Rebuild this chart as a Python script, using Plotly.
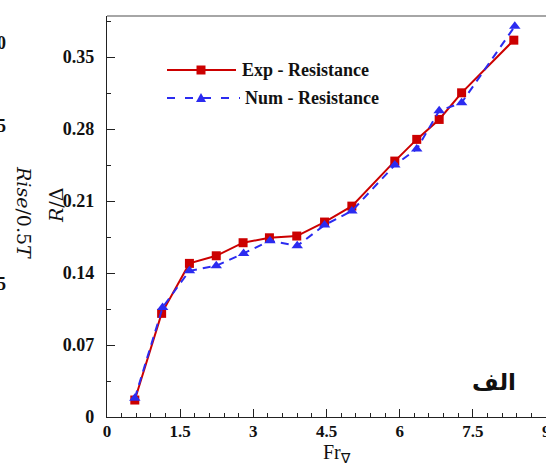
import plotly.graph_objects as go

# Froude number (volumetric) and resistance ratio R/Δ
fr_exp = [0.57, 1.12, 1.69, 2.24, 2.79, 3.33, 3.89, 4.46, 5.02, 5.90, 6.35, 6.81, 7.27, 8.34]
r_exp = [0.0165, 0.1008, 0.1494, 0.1568, 0.1695, 0.1743, 0.1760, 0.1896, 0.2051, 0.2489, 0.2700, 0.2894, 0.3153, 0.3665]

fr_num = [0.57, 1.14, 1.69, 2.24, 2.80, 3.34, 3.90, 4.46, 5.02, 5.90, 6.35, 6.81, 7.27, 8.36]
r_num = [0.0182, 0.1066, 0.1422, 0.1471, 0.1591, 0.1714, 0.1665, 0.1867, 0.2003, 0.2450, 0.2606, 0.2978, 0.3056, 0.3800]

x_ticks = [0, 1.5, 3, 4.5, 6, 7.5]
x_edge_tick = 9
y_ticks = [0, 0.07, 0.14, 0.21, 0.28, 0.35]

RED = "#cc0000"
BLUE = "#2b2bf0"
SERIF = "Liberation Serif"

W, H = 546, 464
L, R, T, B = 107, 0, 16, 47
PW, PH = W - L - R, H - T - B


def px(x):
    return (x - L) / PW


def py(y):
    return (H - B - y) / PH


fig = go.Figure()
fig.add_trace(go.Scatter(
    x=fr_exp, y=r_exp, mode="lines+markers", name="Exp - Resistance",
    line=dict(color=RED, width=2),
    marker=dict(symbol="square", size=9, color=RED),
    showlegend=False,
))
fig.add_trace(go.Scatter(
    x=fr_num, y=r_num, mode="lines+markers", name="Num - Resistance",
    line=dict(color=BLUE, width=2, dash="8px,6px"),
    marker=dict(symbol="triangle-up", size=10, color=BLUE),
    showlegend=False,
))

tick_font = dict(family=SERIF, size=18, color="#111", weight="bold")
xtick_font = dict(family=SERIF, size=17, color="#111", weight="bold")
axis_common = dict(
    showgrid=False, zeroline=False, showline=True, linecolor="#222", linewidth=1.2,
    ticks="inside", ticklen=8, tickwidth=1, tickcolor="#222",
)

fig.update_xaxes(
    range=[0, x_edge_tick], tickvals=x_ticks + [x_edge_tick],
    ticktext=[f"{v:g}" for v in x_ticks] + [""],
    minor=dict(dtick=0.3, ticks="inside", ticklen=4, tickcolor="#222"),
    mirror=False, ticklabelstandoff=-2, tickfont=xtick_font,
    **axis_common,
)
fig.update_yaxes(
    range=[0, 0.39], tickvals=y_ticks, ticktext=[f"{v:g}" for v in y_ticks],
    minor=dict(dtick=0.035, ticks="inside", ticklen=4, tickcolor="#222"),
    mirror=False, ticklabelstandoff=8, tickfont=tick_font,
    **axis_common,
)

shapes = [
    # top frame line
    dict(type="line", xref="paper", yref="paper", x0=0, x1=1, y0=1, y1=1,
         line=dict(color="#888", width=1.5)),
    # legend keys
    dict(type="line", xref="paper", yref="paper", x0=px(167), x1=px(236), y0=py(70), y1=py(70),
         line=dict(color=RED, width=2)),
    dict(type="rect", xref="paper", yref="paper", xsizemode="pixel", ysizemode="pixel",
         xanchor=px(201), yanchor=py(70), x0=-4.5, x1=4.5, y0=-4.5, y1=4.5,
         fillcolor=RED, line=dict(width=0)),
    dict(type="line", xref="paper", yref="paper", x0=px(167), x1=px(240), y0=py(98), y1=py(98),
         line=dict(color=BLUE, width=2, dash="8px,10px")),
    dict(type="path", xref="paper", yref="paper", xsizemode="pixel", ysizemode="pixel",
         xanchor=px(201), yanchor=py(98), path="M -5,-4 L 5,-4 L 0,5 Z",
         fillcolor=BLUE, line=dict(width=0)),
]

annotations = [
    dict(text="Exp - Resistance", xref="paper", yref="paper", x=px(240), y=py(70),
         xanchor="left", yanchor="middle", showarrow=False,
         font=dict(family=SERIF, size=18, color="#111", weight="bold")),
    dict(text="Num - Resistance", xref="paper", yref="paper", x=px(243), y=py(98),
         xanchor="left", yanchor="middle", showarrow=False,
         font=dict(family=SERIF, size=18, color="#111", weight="bold")),
    dict(text="الف", xref="paper", yref="paper", x=px(494), y=py(382),
         xanchor="center", yanchor="middle", showarrow=False,
         font=dict(family="DejaVu Sans", size=23, color="#111", weight="bold")),
    # axis titles
    dict(text="Fr<sub>∇</sub>", xref="paper", yref="paper", x=px(337), y=py(453),
         xanchor="center", yanchor="middle", showarrow=False, borderpad=0,
         font=dict(family=SERIF, size=20, color="#111")),
    dict(text="<i>R</i>/Δ", xref="paper", yref="paper", x=px(56), y=py(206),
         xanchor="center", yanchor="middle", textangle=-90, showarrow=False,
         font=dict(family="DejaVu Serif", size=19, color="#111")),
    # last x tick label, sitting on the right edge
    dict(text=f"{x_edge_tick:g}", xref="paper", yref="paper", x=1, y=py(431),
         xanchor="center", yanchor="middle", showarrow=False, font=xtick_font),
    # neighbouring panel's axis title and tick labels
    dict(text="<i>Rise</i>/0.5<i>T</i>", xref="paper", yref="paper", x=px(24), y=py(212),
         xanchor="center", yanchor="middle", textangle=90, showarrow=False,
         font=dict(family="DejaVu Serif", size=19, color="#111")),
]
for yy, t in [(43, "0"), (126, "5"), (284, "5")]:
    annotations.append(dict(text=t, xref="paper", yref="paper", x=px(8), y=py(yy),
                            xanchor="right", yanchor="middle", showarrow=False,
                            font=tick_font))

fig.update_layout(
    width=W, height=H,
    margin=dict(l=L, r=R, t=T, b=B),
    paper_bgcolor="white", plot_bgcolor="white",
    shapes=shapes, annotations=annotations,
    showlegend=False,
)

fig.write_html("out.html")
